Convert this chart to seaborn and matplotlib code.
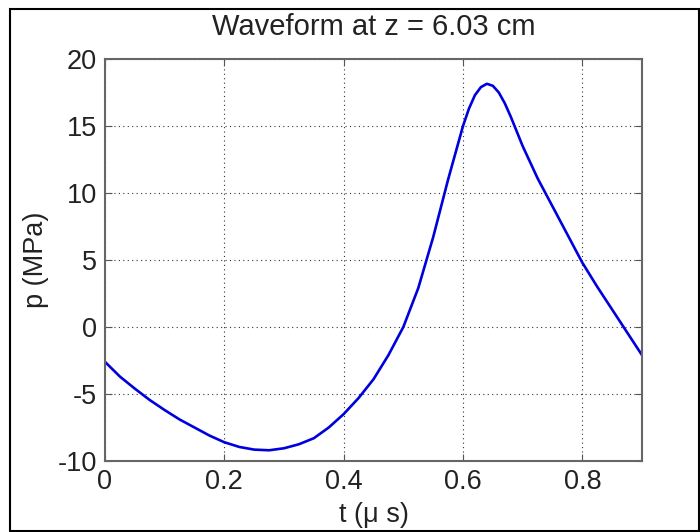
import matplotlib
matplotlib.use("Agg")
import matplotlib.pyplot as plt
import matplotlib.patches as mpatches
import seaborn as sns
import pandas as pd

# Data
t_us = [0.0, 0.025, 0.05, 0.075, 0.1, 0.125, 0.15, 0.175, 0.2, 0.225, 0.25,
        0.275, 0.3, 0.325, 0.35, 0.375, 0.4, 0.425, 0.45, 0.475, 0.5, 0.525,
        0.55, 0.575, 0.6, 0.61, 0.62, 0.63, 0.64, 0.65, 0.66, 0.67, 0.68,
        0.69, 0.7, 0.725, 0.75, 0.775, 0.8, 0.825, 0.85, 0.875, 0.9]
p_mpa = [-2.6, -3.7, -4.6, -5.45, -6.2, -6.9, -7.5, -8.1, -8.6, -8.95, -9.15,
         -9.2, -9.05, -8.75, -8.3, -7.5, -6.5, -5.3, -3.9, -2.1, 0.0, 2.9,
         6.7, 11.0, 15.0, 16.3, 17.3, 17.9, 18.15, 18.0, 17.5, 16.7, 15.7,
         14.6, 13.5, 11.1, 9.0, 6.9, 4.8, 3.0, 1.3, -0.4, -2.1]
x_ticks = [0, 0.2, 0.4, 0.6, 0.8]
y_ticks = [-10, -5, 0, 5, 10, 15, 20]
title = "Waveform at z = 6.03 cm"
xlabel = "t (\u03bc s)"
ylabel = "p (MPa)"

df = pd.DataFrame({"t": t_us, "p": p_mpa})

sns.set_theme(style="white")
plt.rcParams["font.family"] = ["Liberation Sans", "DejaVu Sans"]

fig = plt.figure(figsize=(7.0, 5.32), dpi=100)
fig.patch.set_facecolor("white")
ax = fig.add_axes([105 / 700, 71 / 532, 537 / 700, 402 / 532])

sns.lineplot(data=df, x="t", y="p", ax=ax, color="#0000dd", linewidth=1.9,
             sort=False, estimator=None)

ax.set_xlim(0, 0.9)
ax.set_ylim(-10, 20)
ax.set_xticks(x_ticks)
ax.set_xticklabels(["0", "0.2", "0.4", "0.6", "0.8"])
ax.set_yticks(y_ticks)
ax.set_yticklabels([str(v) for v in y_ticks])

ax.grid(True, linestyle=(0, (1, 3)), color="#333333", linewidth=0.8)
ax.tick_params(direction="in", length=5, width=0.8, colors="#555555",
               labelcolor="#222222", labelsize=19.5, pad=6,
               top=True, right=True, bottom=True, left=True)
for s in ax.spines.values():
    s.set_color("#666666")
    s.set_linewidth(1.5)
    s.set_visible(True)

ax.set_title(title, fontsize=21, color="#222222", pad=17)
ax.set_xlabel(xlabel, fontsize=19.5, color="#222222", labelpad=5)
ax.set_ylabel(ylabel, fontsize=19.5, color="#222222", labelpad=6)

# outer figure border
fig.patches.append(mpatches.Rectangle((10 / 700, 1.5 / 532), 688.5 / 700, 521.5 / 532,
                                      transform=fig.transFigure, fill=False,
                                      edgecolor="black", linewidth=1.5))

fig.savefig("out.png", dpi=100)
